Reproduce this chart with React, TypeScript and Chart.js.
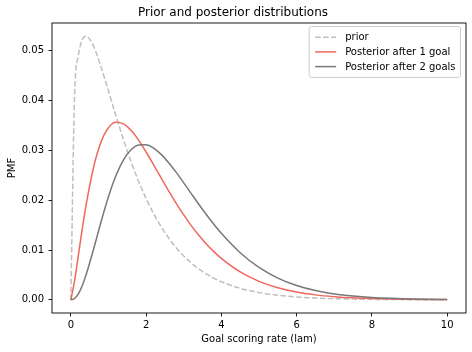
import React, { useEffect, useRef } from "react";
import { Chart, registerables } from "chart.js";

Chart.register(...registerables);

const lams = [0, 0.1, 0.2, 0.3, 0.4, 0.6, 0.8, 1.0, 1.2, 1.4, 1.6, 1.8, 2.0, 2.2, 2.4, 2.6, 2.8, 3.0, 3.2, 3.4, 3.6, 3.8, 4.0, 4.5, 5.0, 5.5, 6.0, 6.5, 7.0, 7.5, 8.0, 8.5, 9.0, 9.5, 10];

const prior = [0, 0.04106, 0.04902, 0.05216, 0.05295, 0.05099, 0.04684, 0.04193, 0.03692, 0.03215, 0.02777, 0.02383, 0.02035, 0.01731, 0.01468, 0.01241, 0.01046, 0.00881, 0.0074, 0.00621, 0.0052, 0.00435, 0.00363, 0.00231, 0.00146, 0.00092, 0.00058, 0.00036, 0.00023, 0.00014, 0.00009, 0.00005, 0.00003, 0.00002, 0.00001];

const post1 = [0, 0.00378, 0.00891, 0.01405, 0.01879, 0.02648, 0.03165, 0.03456, 0.03564, 0.03534, 0.03404, 0.03207, 0.02969, 0.02711, 0.02447, 0.02187, 0.01938, 0.01705, 0.01491, 0.01297, 0.01123, 0.00967, 0.00831, 0.00559, 0.0037, 0.00241, 0.00155, 0.00099, 0.00063, 0.00039, 0.00025, 0.00015, 0.00009, 0.00006, 0.00004];

const post2 = [0, 0.00026, 0.00119, 0.00277, 0.00488, 0.01005, 0.01559, 0.02072, 0.02497, 0.02812, 0.03014, 0.0311, 0.03116, 0.03047, 0.02921, 0.02753, 0.02559, 0.02349, 0.02134, 0.0192, 0.01713, 0.01517, 0.01335, 0.00945, 0.0065, 0.00436, 0.00287, 0.00185, 0.00118, 0.00075, 0.00046, 0.00029, 0.00018, 0.00011, 0.00006];

const seriesLabels = ["prior", "Posterior after 1 goal", "Posterior after 2 goals"];
const xTicks = [0, 2, 4, 6, 8, 10];
const yTicks = [0, 0.01, 0.02, 0.03, 0.04, 0.05];

const FONT = "DejaVu Sans";

const framePlugin = {
  id: "frame",
  afterDatasetsDraw(chart: any) {
    const { ctx, chartArea } = chart;
    ctx.save();
    ctx.strokeStyle = "#000";
    ctx.lineWidth = 0.9;
    ctx.strokeRect(chartArea.left, chartArea.top, chartArea.right - chartArea.left, chartArea.bottom - chartArea.top);
    ctx.restore();
  },
};

const legendPlugin = {
  id: "mplLegend",
  afterDatasetsDraw(chart: any) {
    const { ctx, chartArea } = chart;
    const ds = chart.data.datasets;
    ctx.save();
    ctx.font = `10px "${FONT}"`;
    let maxW = 0;
    ds.forEach((d: any) => {
      maxW = Math.max(maxW, ctx.measureText(d.label).width);
    });
    const right = chartArea.right - 5.5;
    const top = chartArea.top + 3.5;
    const rowH = 14.7;
    const w = 6 + 30 + maxW + 5;
    const h = 10.5 * 2 + rowH * (ds.length - 1) + 0.5;
    const left = right - w;
    const r = 2.5;
    ctx.beginPath();
    ctx.moveTo(left + r, top);
    ctx.lineTo(right - r, top);
    ctx.quadraticCurveTo(right, top, right, top + r);
    ctx.lineTo(right, top + h - r);
    ctx.quadraticCurveTo(right, top + h, right - r, top + h);
    ctx.lineTo(left + r, top + h);
    ctx.quadraticCurveTo(left, top + h, left, top + h - r);
    ctx.lineTo(left, top + r);
    ctx.quadraticCurveTo(left, top, left + r, top);
    ctx.closePath();
    ctx.fillStyle = "rgba(255,255,255,0.8)";
    ctx.fill();
    ctx.strokeStyle = "#cccccc";
    ctx.lineWidth = 1;
    ctx.stroke();
    ds.forEach((d: any, i: number) => {
      const cy = top + 10.7 + i * rowH;
      ctx.beginPath();
      ctx.setLineDash(d.borderDash || []);
      ctx.strokeStyle = d.borderColor;
      ctx.lineWidth = d.borderWidth;
      ctx.moveTo(left + 6, cy);
      ctx.lineTo(left + 27, cy);
      ctx.stroke();
      ctx.setLineDash([]);
      ctx.fillStyle = "#000";
      ctx.textAlign = "left";
      ctx.textBaseline = "middle";
      ctx.fillText(d.label, left + 36, cy + 0.5);
    });
    ctx.restore();
  },
};

export default function App() {
  const ref = useRef<HTMLCanvasElement | null>(null);
  useEffect(() => {
    if (!ref.current) return;
    const mk = (ys: number[]) => lams.map((x, i) => ({ x, y: ys[i] }));
    const chart = new Chart(ref.current, {
      type: "line",
      data: {
        datasets: [
          {
            label: seriesLabels[0],
            data: mk(prior),
            borderColor: "#bfbfbf",
            borderDash: [5.5, 2.4],
            borderWidth: 1.5,
            pointRadius: 0,
            fill: false,
            cubicInterpolationMode: "monotone",
            order: 2,
          },
          {
            label: seriesLabels[1],
            data: mk(post1),
            borderColor: "#f0675d",
            borderWidth: 1.5,
            pointRadius: 0,
            fill: false,
            cubicInterpolationMode: "monotone",
            order: 1,
          },
          {
            label: seriesLabels[2],
            data: mk(post2),
            borderColor: "#787878",
            borderWidth: 1.5,
            pointRadius: 0,
            fill: false,
            cubicInterpolationMode: "monotone",
            order: 0,
          },
        ],
      },
      options: {
        animation: false,
        responsive: false,
        maintainAspectRatio: false,
        devicePixelRatio: 1,
        layout: { padding: { left: 0, right: 6, top: 0, bottom: 0 } },
        plugins: {
          legend: { display: false },
          tooltip: { enabled: false },
          title: {
            display: true,
            text: "Prior and posterior distributions",
            color: "#000",
            font: { family: FONT, size: 12, weight: "normal" },
            padding: { top: 5.7, bottom: 2.9 },
          },
        },
        scales: {
          x: {
            type: "linear",
            min: -0.5,
            max: 10.5,
            afterFit(scale: any) {
              scale.height = 39;
            },
            afterBuildTicks(scale: any) {
              scale.ticks = xTicks.map((v) => ({ value: v }));
            },
            ticks: {
              color: "#000",
              font: { family: FONT, size: 10 },
              padding: 2.5,
              maxRotation: 0,
              autoSkip: false,
              callback: (v: any) => String(v),
            },
            grid: {
              display: true,
              drawOnChartArea: false,
              drawTicks: true,
              tickLength: 3.5,
              tickColor: "#000",
              tickWidth: 0.9,
            },
            border: { display: false },
            title: {
              display: true,
              text: "Goal scoring rate (lam)",
              color: "#000",
              font: { family: FONT, size: 10 },
              padding: { top: 0, bottom: 7 },
            },
          },
          y: {
            type: "linear",
            min: -0.00265,
            max: 0.0556,
            afterFit(scale: any) {
              scale.width = 52;
            },
            afterBuildTicks(scale: any) {
              scale.ticks = yTicks.map((v) => ({ value: v }));
            },
            ticks: {
              color: "#000",
              font: { family: FONT, size: 10 },
              padding: 4.5,
              autoSkip: false,
              callback: (v: any) => Number(v).toFixed(2),
            },
            grid: {
              display: true,
              drawOnChartArea: false,
              drawTicks: true,
              tickLength: 3.5,
              tickColor: "#000",
              tickWidth: 0.9,
            },
            border: { display: false },
            title: {
              display: true,
              text: "PMF",
              color: "#000",
              font: { family: FONT, size: 10 },
              padding: { top: 6, bottom: 0 },
            },
          },
        },
      },
      plugins: [framePlugin, legendPlugin],
    } as any);
    return () => chart.destroy();
  }, []);
  return (
    <div style={{ position: "fixed", left: 0, top: 0, width: 472, height: 352, background: "#fff" }}>
      <canvas ref={ref} width={472} height={352} />
    </div>
  );
}
